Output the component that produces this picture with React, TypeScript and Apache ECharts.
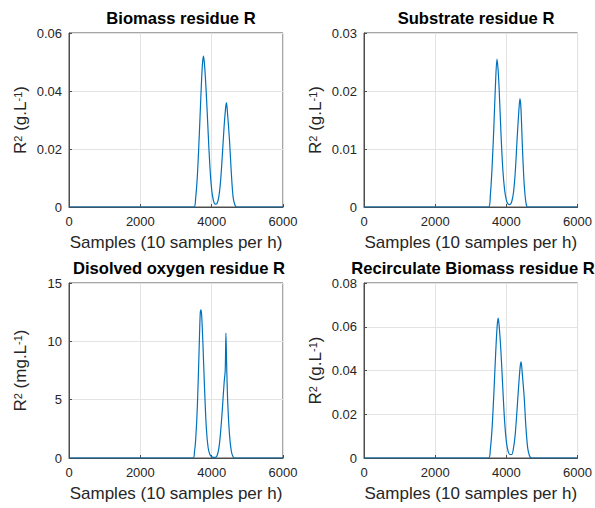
import React, { useEffect, useRef } from "react";
import * as echarts from "echarts";

const titles = ["Biomass residue R", "Substrate residue R", "Disolved oxygen residue R", "Recirculate Biomass residue R"];
const yUnits = ["g.L", "g.L", "mg.L", "g.L"];
const xTicks = [0, 2000, 4000, 6000];
const yMax = [0.06, 0.03, 15, 0.08];
const yStep = [0.02, 0.01, 5, 0.02];

const biomassX = [0, 3500, 3550, 3600, 3650, 3700, 3740, 3770, 3800, 3850, 3900, 3950, 4000, 4050, 4100, 4150, 4200, 4250, 4300, 4350, 4390, 4415, 4440, 4500, 4550, 4600, 4650, 4700, 6000];
const biomassY = [0, 0, 0.003, 0.011, 0.024, 0.039, 0.049, 0.052, 0.049, 0.039, 0.026, 0.014, 0.006, 0.0022, 0.001, 0.0012, 0.0035, 0.009, 0.018, 0.028, 0.034, 0.036, 0.033, 0.023, 0.012, 0.0035, 0.0008, 0, 0];

const substrateX = [0, 3500, 3550, 3600, 3650, 3700, 3737, 3770, 3800, 3850, 3900, 3950, 4000, 4050, 4100, 4150, 4200, 4250, 4300, 4350, 4382, 4410, 4450, 4500, 4550, 4600, 6000];
const substrateY = [0, 0, 0.002, 0.007, 0.014, 0.022, 0.0255, 0.0235, 0.02, 0.0125, 0.0065, 0.003, 0.0012, 0.0005, 0.0004, 0.0009, 0.0025, 0.006, 0.0115, 0.0165, 0.0187, 0.017, 0.0105, 0.004, 0.0008, 0, 0];

const oxygenX = [0, 3480, 3520, 3550, 3600, 3650, 3680, 3700, 3720, 3750, 3800, 3850, 3900, 3950, 4000, 4050, 4100, 4150, 4200, 4250, 4300, 4350, 4380, 4400, 4420, 4450, 4500, 4550, 4600, 4650, 6000];
const oxygenY = [0, 0, 0.6, 1.5, 4.5, 9.5, 12.4, 12.7, 12.2, 10.2, 6, 2.6, 0.9, 0.3, 0.1, 0.05, 0.05, 0.2, 0.8, 2.2, 4.2, 6.5, 7.5, 10.7, 8, 4.8, 2, 0.6, 0.1, 0, 0];

const recircX = [0, 3500, 3550, 3600, 3650, 3700, 3740, 3770, 3800, 3850, 3900, 3950, 4000, 4050, 4100, 4150, 4200, 4250, 4300, 4350, 4390, 4415, 4440, 4500, 4550, 4600, 4650, 4700, 6000];
const recircY = [0, 0, 0.004, 0.014, 0.03, 0.048, 0.06, 0.064, 0.06, 0.048, 0.032, 0.017, 0.0075, 0.003, 0.0016, 0.0016, 0.0045, 0.011, 0.022, 0.034, 0.042, 0.044, 0.04, 0.028, 0.014, 0.0045, 0.001, 0, 0];

const seriesX = [biomassX, substrateX, oxygenX, recircX];
const seriesY = [biomassY, substrateY, oxygenY, recircY];

const grids = [
  { left: 69, top: 33, width: 214, height: 174 },
  { left: 364, top: 33, width: 214, height: 174 },
  { left: 69, top: 283, width: 214, height: 175 },
  { left: 364, top: 283, width: 214, height: 175 },
];
const titleCenters = [176, 471, 174, 468];

const FONT = "Liberation Sans, Arial, Helvetica, sans-serif";
const AXIS = "#4d4d4d";
const TEXT = "#262626";

export default function App() {
  const ref = useRef<HTMLDivElement>(null);
  useEffect(() => {
    if (!ref.current) return;
    const chart = echarts.init(ref.current, null, { renderer: "svg" });
    const xAxis: any[] = [];
    const yAxis: any[] = [];
    const series: any[] = [];
    const title: any[] = [];
    grids.forEach((g, i) => {
      title.push({
        text: titles[i],
        left: titleCenters[i],
        top: g.top - 28,
        textAlign: "center",
        textStyle: { fontFamily: FONT, fontSize: 16.6, fontWeight: "bold", color: "#000" },
      });
      xAxis.push({
        type: "value",
        gridIndex: i,
        min: xTicks[0],
        max: xTicks[xTicks.length - 1],
        interval: xTicks[1] - xTicks[0],
        name: "Samples (10 samples per h)",
        nameLocation: "middle",
        nameGap: 27,
        nameTextStyle: { fontFamily: FONT, fontSize: 17, color: TEXT },
        axisLine: { show: true, lineStyle: { color: AXIS, width: 1 } },
        axisTick: { show: true, inside: true, length: 3, lineStyle: { color: AXIS } },
        axisLabel: { fontFamily: FONT, fontSize: 13, color: TEXT, margin: 8, formatter: (v: number) => String(v) },
        splitLine: { show: true, lineStyle: { color: "#e3e3e3", width: 1 } },
      });
      yAxis.push({
        type: "value",
        gridIndex: i,
        min: 0,
        max: yMax[i],
        interval: yStep[i],
        name: "R{sup|2} (" + yUnits[i] + "{sup|-1})",
        nameLocation: "middle",
        nameGap: 40,
        nameTextStyle: {
          fontFamily: FONT,
          fontSize: 17,
          color: TEXT,
          rich: {
            sup: { fontFamily: FONT, fontSize: 11, color: TEXT, verticalAlign: "top", lineHeight: 17 },
          },
        },
        axisLine: { show: true, lineStyle: { color: AXIS, width: 1 } },
        axisTick: { show: true, inside: true, length: 3, lineStyle: { color: AXIS } },
        axisLabel: { fontFamily: FONT, fontSize: 13, color: TEXT, margin: 7 },
        splitLine: { show: true, lineStyle: { color: "#e3e3e3", width: 1 } },
      });
      series.push({
        type: "line",
        xAxisIndex: i,
        yAxisIndex: i,
        data: seriesX[i].map((x, k) => [x, seriesY[i][k]]),
        showSymbol: false,
        smooth: 0.3,
        lineStyle: { color: "#0072BD", width: 1.2 },
        z: 5,
      });
    });
    chart.setOption({
      animation: false,
      backgroundColor: "#fff",
      title,
      grid: grids.map((g) => ({ ...g, show: true, borderColor: AXIS, borderWidth: 1, backgroundColor: "transparent" })),
      xAxis,
      yAxis,
      series,
    });
    return () => chart.dispose();
  }, []);
  return <div ref={ref} style={{ position: "fixed", left: 0, top: 0, width: 595, height: 508 }} />;
}
